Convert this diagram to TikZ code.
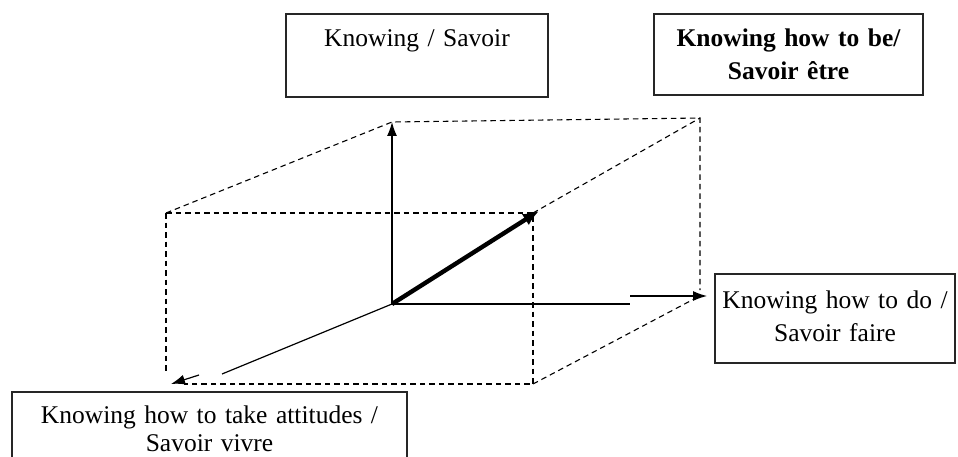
\documentclass[tikz,border=0pt]{standalone}
\usepackage{fontspec}
\setmainfont{Liberation Serif}
\usetikzlibrary{arrows.meta}
\begin{document}
\begin{tikzpicture}[x=1pt,y=-1pt,
  box/.style={draw=black!85, line width=1.4pt, inner sep=0pt, align=center,
    anchor=base, font=\fontsize{25.5}{33}\selectfont},
  cubeedge/.style={line width=1.1pt, dash pattern=on 5.5pt off 4pt},
  axis/.style={line width=1.2pt, -{Latex[length=14pt,width=10pt]}},
  mainaxis/.style={line width=4.4pt, -{Latex[length=16pt,width=13pt]}}]
\useasboundingbox (0,0) rectangle (958,457);
\clip (0,0) rectangle (958,457);
% boxes
\node[box, text width=262pt, text height=33pt, text depth=50pt] (savoir) at (417,47) {Knowing / Savoir};
\node[box, text width=269pt, text height=33pt, text depth=48pt, font=\fontsize{25.5}{33}\selectfont\bfseries] (etre) at (788.5,47) {Knowing how to be/\\Savoir être};
\node[box, text width=240pt, text height=34pt, text depth=55pt] (faire) at (835,308) {Knowing how to do /\\Savoir faire};
\node[box, text width=395pt, text height=31pt, text depth=60pt, font=\fontsize{25.5}{28}\selectfont] (vivre) at (209.5,423) {Knowing how to take attitudes /\\Savoir vivre};
% cube corners
\coordinate (O) at (392,304);
\coordinate (ftl) at (166,213);
\coordinate (ftr) at (533,213);
\coordinate (fbr) at (533,384);
\coordinate (fbl) at (166,374);
\coordinate (fbs) at (184,384);
\coordinate (btl) at (392,122);
\coordinate (btr) at (700,118);
\coordinate (bbr) at (700,290);
\coordinate (bbd) at (694,299);
% dashed cube edges
\draw[cubeedge] (ftl) -- (ftr) -- (fbr) -- (fbs);
\draw[cubeedge] (ftl) -- (fbl);
\draw[cubeedge] (ftl) -- (btl) -- (btr) -- (bbr);
\draw[cubeedge] (ftr) -- (btr);
\draw[cubeedge] (fbr) -- (bbd);
% axes
\draw[axis] (O) -- (btl);
\coordinate (h1) at (630,304);
\coordinate (h2) at (630,296);
\coordinate (htip) at (707,296);
\draw[axis] (O) -- (h1) (h2) -- (htip);
\coordinate (d1) at (222,374);
\coordinate (d2) at (199,375);
\coordinate (dtip) at (171,384);
\draw[axis] (O) -- (d1) (d2) -- (dtip);
\coordinate (mtip) at (539,211);
\draw[mainaxis] (O) -- (mtip);
\end{tikzpicture}
\end{document}
